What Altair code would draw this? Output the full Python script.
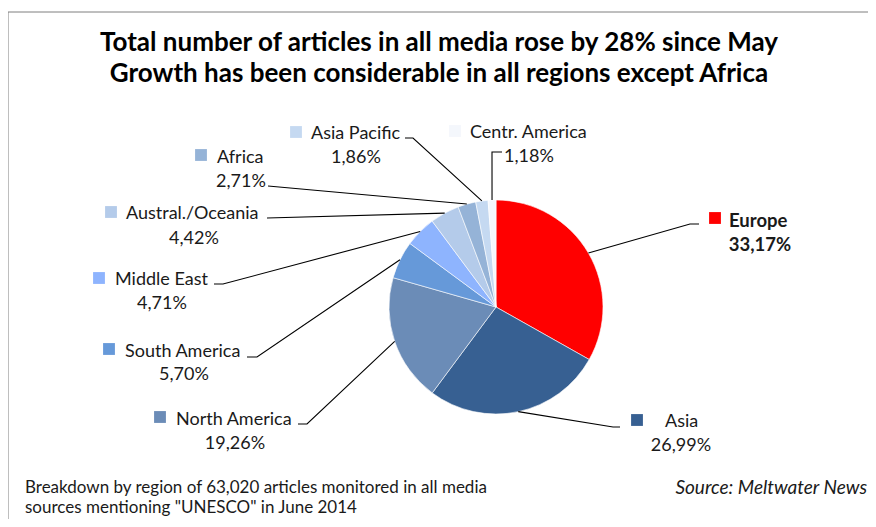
import math
import altair as alt
import pandas as pd

# ---------------- data ----------------
regions = ["Europe", "Asia", "North America", "South America", "Middle East",
           "Austral./Oceania", "Africa", "Asia Pacific", "Centr. America"]
shares = [33.17, 26.99, 19.26, 5.70, 4.71, 4.42, 2.71, 1.86, 1.18]
colors = ["#FF0000", "#376092", "#6B8CB7", "#6699D9", "#8EB4FE",
          "#B4CBEA", "#95B3D7", "#C5D9F1", "#F4F7FC"]
bold_regions = ["Europe"]

title_lines = ["Total number of articles in all media rose by 28% since May",
               "Growth has been considerable in all regions except Africa"]
footnote_lines = ["Breakdown by region of 63,020 articles monitored in all media",
                  "sources mentioning \"UNESCO\" in June 2014"]
source_text = "Source: Meltwater News"

# ---------------- layout (page pixel coordinates) ----------------
W, H = 860, 511
CX, CY, R = 496, 307, 107
FONT = "Lato"
# square(x,y), name(x,y left-aligned), pct(x,y centered), elbow(x,y), end(x,y)
layout = {
    "Europe":           ((715, 218), (729, 219), (760, 243), (690, 224), (699, 224)),
    "Asia":             ((637, 420), (665, 420), (681, 444), (613, 427), (620, 427)),
    "North America":    ((160, 417), (176, 418), (235, 442), (307, 424), (298, 424)),
    "South America":    ((109, 349), (125, 350), (184, 373), (257, 357), (247, 357)),
    "Middle East":      ((99, 278),  (115, 278), (162, 302), (223, 284), (214, 284)),
    "Austral./Oceania": ((111, 212), (126, 212), (194, 237), (267, 218), (267, 218)),
    "Africa":           ((201, 155), (217, 156), (241, 180), (268, 186), (268, 186)),
    "Asia Pacific":     ((296, 132), (311, 132), (356, 156), (413, 138), (405, 138)),
    "Centr. America":   ((455, 131), (470, 131), (529, 155), (492, 152), (502, 152)),
}

# ---------------- tables ----------------
pie_df = pd.DataFrame({"region": regions, "share": shares, "idx": range(len(regions))})

lab_rows, line_rows = [], []
cum = 0.0
for reg, s in zip(regions, shares):
    mid = (cum + s / 2) / 100 * 2 * math.pi
    cum += s
    ex, ey = CX + R * math.sin(mid), CY - R * math.cos(mid)
    sq, nm, pc, el, en = layout[reg]
    pct = f"{s:.2f}".replace(".", ",") + "%"
    bold = reg in bold_regions
    lab_rows.append({"region": reg, "sx": sq[0], "sy": sq[1],
                     "nx": nm[0], "ny": nm[1], "px": pc[0], "py": pc[1],
                     "pct": pct, "w": "bold" if bold else "normal"})
    for k, (x, y) in enumerate([(ex, ey), el, en]):
        line_rows.append({"region": reg, "k": k, "x": x, "y": y})
lab_df = pd.DataFrame(lab_rows)
line_df = pd.DataFrame(line_rows)

xs = alt.Scale(domain=[8, 8 + W], nice=False, zero=False)
ys = alt.Scale(domain=[8, 8 + H], nice=False, zero=False, reverse=True)
X = lambda f: alt.X(f"{f}:Q", scale=xs, axis=None)
Y = lambda f: alt.Y(f"{f}:Q", scale=ys, axis=None)
color = alt.Color("region:N", scale=alt.Scale(domain=regions, range=colors), legend=None)

pie = alt.Chart(pie_df).mark_arc(outerRadius=R, stroke="white", strokeWidth=0.6).encode(
    theta=alt.Theta("share:Q", stack=True),
    order=alt.Order("idx:Q"),
    color=color,
    x=alt.value(CX - 8), y=alt.value(CY - 8),
)

leaders = alt.Chart(line_df).mark_line(color="black", strokeWidth=1.1).encode(
    x=X("x"), y=Y("y"), detail="region:N", order="k:Q")

squares = alt.Chart(lab_df).mark_square(size=140, opacity=1).encode(
    x=X("sx"), y=Y("sy"), color=color)

lab_norm = lab_df[lab_df.w == "normal"]
lab_bold = lab_df[lab_df.w == "bold"]

def names(df, weight, size):
    return alt.Chart(df).mark_text(align="left", baseline="middle", font=FONT, dy=1.5,
                                   fontSize=size, fontWeight=weight, color="#1a1a1a").encode(
        x=X("nx"), y=Y("ny"), text="region:N")

def pcts(df, weight, size):
    return alt.Chart(df).mark_text(align="center", baseline="middle", font=FONT, dy=1.5,
                                   fontSize=size, fontWeight=weight, color="#1a1a1a").encode(
        x=X("px"), y=Y("py"), text="pct:N")

title_df = pd.DataFrame({"t": title_lines, "x": [439, 439], "y": [43, 74]})
title = alt.Chart(title_df).mark_text(align="center", baseline="middle", font=FONT,
                                      fontSize=26, fontWeight="bold", color="black").encode(
    x=X("x"), y=Y("y"), text="t:N")

foot_df = pd.DataFrame({"t": footnote_lines, "x": [25, 25], "y": [488, 508]})
foot = alt.Chart(foot_df).mark_text(align="left", baseline="middle", font=FONT,
                                    fontSize=17, color="#1a1a1a").encode(
    x=X("x"), y=Y("y"), text="t:N")

src_df = pd.DataFrame({"t": [source_text], "x": [867], "y": [488]})
src = alt.Chart(src_df).mark_text(align="right", baseline="middle", font=FONT,
                                  fontSize=19, fontStyle="italic", color="#1a1a1a").encode(
    x=X("x"), y=Y("y"), text="t:N")

border_df = pd.DataFrame({"x": [8, 8], "y": [12, 12], "x2": [8, 900], "y2": [540, 12]})
border = alt.Chart(border_df).mark_rule(color="#7f7f7f", strokeWidth=1).encode(
    x=X("x"), y=Y("y"), x2="x2:Q", y2="y2:Q")

chart = alt.layer(border, pie, leaders, squares,
                  names(lab_norm, "normal", 18), names(lab_bold, "bold", 18.5),
                  pcts(lab_norm, "normal", 18), pcts(lab_bold, "bold", 18.5),
                  title, foot, src).properties(
    width=W, height=H, autosize=alt.AutoSizeParams(type="none"), padding=0,
    background="white",
).configure_view(stroke=None)

chart.save("out.html", embed_options={"renderer": "svg", "actions": False})
